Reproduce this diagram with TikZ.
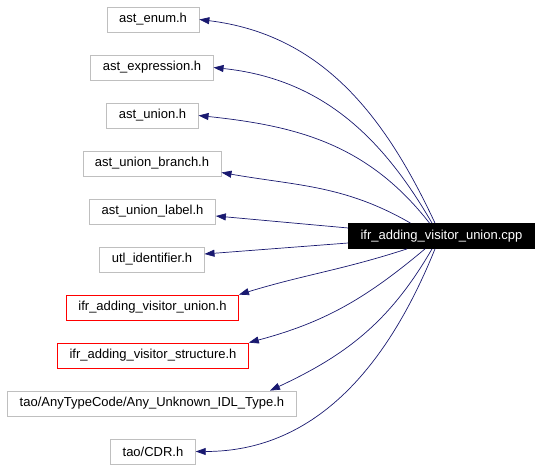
\documentclass[tikz,border=0pt]{standalone}
\usepackage{fontspec}
\setmainfont{Liberation Sans}
\usetikzlibrary{arrows.meta}
\definecolor{edgeblue}{RGB}{25,25,112}
\definecolor{boxgray}{RGB}{191,191,191}

\begin{document}
\begin{tikzpicture}[
		x=1pt, y=1pt,
		hdr/.style={draw=boxgray, line width=0.8pt, minimum height=25pt, inner xsep=12pt, font=\fontsize{13}{15}\selectfont},
		hdrred/.style={hdr, draw=red},
		main/.style={hdr, draw=black, fill=black, text=white},
		dep/.style={-{Triangle[length=10pt,width=7pt]}, draw=edgeblue, line width=0.7pt}
	]
		\useasboundingbox (0,0) rectangle (541,469);
		\node[main] (cpp) at (441.5,233) {ifr\_adding\_visitor\_union.cpp};
		\node[hdr] (enum) at (153,449.5) {ast\_enum.h};
		\node[hdr] (expr) at (152,401.5) {ast\_expression.h};
		\node[hdr] (union) at (152.5,353.5) {ast\_union.h};
		\node[hdr] (branch) at (152,305.5) {ast\_union\_branch.h};
		\node[hdr] (label) at (152.5,257.5) {ast\_union\_label.h};
		\node[hdr] (ident) at (152,209.5) {utl\_identifier.h};
		\node[hdrred] (vunion) at (152.5,161.5) {ifr\_adding\_visitor\_union.h};
		\node[hdrred] (vstruct) at (153,113.5) {ifr\_adding\_visitor\_structure.h};
		\node[hdr] (anytype) at (152,65.5) {tao/AnyTypeCode/Any\_Unknown\_IDL\_Type.h};
		\node[hdr] (cdr) at (153,17.5) {tao/CDR.h};
		% includes, fanned out from the top and bottom of the .cpp box
		\draw[dep] ([xshift=-6.5pt]cpp.north) to[out=115, in=-7] (enum.east);
		\draw[dep] ([xshift=-9.5pt]cpp.north) to[out=120, in=-6] (expr.east);
		\draw[dep] ([xshift=-12pt]cpp.north) to[out=128, in=-6] (union.east);
		\draw[dep] ([xshift=-31pt]cpp.north) to[out=150, in=-10] ([yshift=-9pt]branch.east);
		\draw[dep] ([yshift=8pt]cpp.west) -- ([yshift=-4.5pt]label.east);
		\draw[dep] ([yshift=-7pt]cpp.west) -- ([yshift=5.5pt]ident.east);
		\draw[dep] ([xshift=-34.5pt]cpp.south) to[out=-162, in=17] (vunion.north east);
		\draw[dep] ([xshift=-16.5pt]cpp.south) to[out=-140, in=15] (vstruct.north east);
		\draw[dep] ([xshift=-9.5pt]cpp.south) to[out=-120, in=25] ([xshift=118pt]anytype.north);
		\draw[dep] ([xshift=-6.5pt]cpp.south) to[out=-112, in=0] (cdr.east);
\end{tikzpicture}
\end{document}
